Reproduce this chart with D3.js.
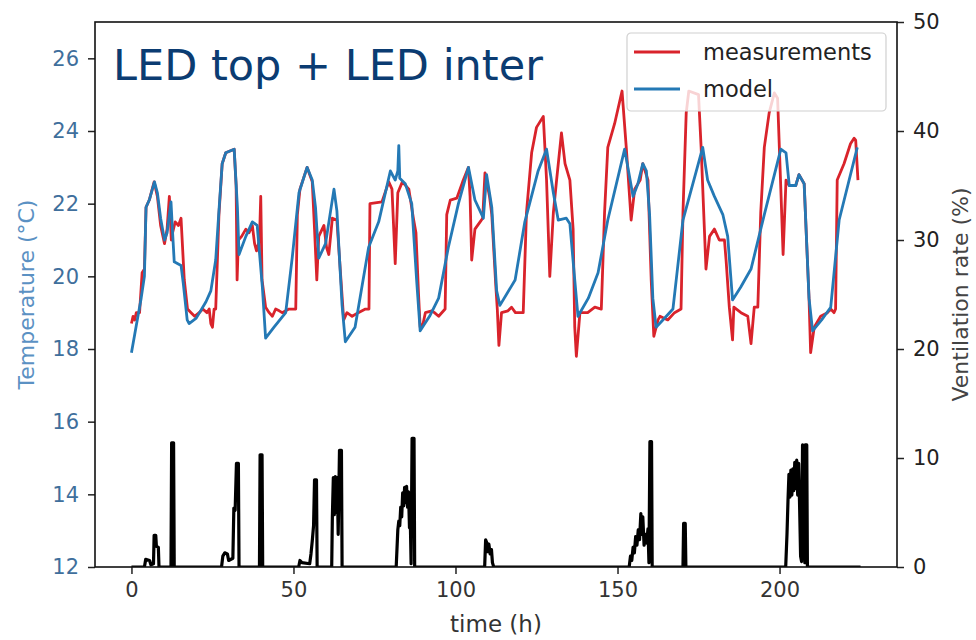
<!DOCTYPE html>
<html>
<head>
<meta charset="utf-8">
<script src="https://cdn.jsdelivr.net/npm/d3@7"></script>
<style>
  body { margin: 0; background: #fff; }
  svg { display: block; font-family: "DejaVu Sans", sans-serif; }
</style>
</head>
<body>
<svg id="chart" width="976" height="640"></svg>
<script>
// values: [time (h), value]
const measured = [
  [0,18.7],[0.5,18.9],[1,18.8],[1.5,19.0],[2.5,19.0],[3.3,20.1],[4,20.2],[4.5,21.9],[5.5,22.1],[7,22.6],
  [8,22.2],[9,21.4],[10.2,20.9],[11,21.3],[11.7,22.2],[12.3,21.0],[12.7,21.2],[13.5,21.5],[14.5,21.4],[15.3,21.6],
  [16.3,19.9],[17.3,19.1],[18.4,19.0],[19.5,18.9],[20.9,19.0],[22,19.1],[23.3,19.0],[24,19.1],[24.5,18.7],[25,18.6],
  [25.5,19.1],[26,19.1],[27,21.7],[28,23.1],[29.1,23.4],[31.7,23.5],[32.3,22.5],[32.6,19.9],[33,21.0],[34,21.1],
  [35.3,21.3],[36.3,21.2],[37.3,21.4],[38,20.9],[38.6,20.7],[39.5,21.0],[39.9,22.2],[40.3,19.9],[41.4,19.15],[42.5,19.0],
  [43.5,18.9],[44.5,19.1],[45.6,19.05],[46.5,19.0],[48.6,19.1],[50.7,19.1],[51.2,21.7],[52,22.4],[54.2,23.0],[55.8,22.6],
  [56.5,21.3],[57.2,19.9],[57.8,21.1],[59.4,21.4],[60.2,20.8],[60.9,20.6],[62,21.6],[63.4,21.55],[64.5,20.1],[65.5,18.8],
  [66.5,19.0],[68.1,18.9],[70,19.0],[72.2,19.1],[73.3,19.1],[73.6,22.0],[77.3,22.05],[79.4,22.6],[80.4,22.4],[81.4,20.35],
  [82.2,22.3],[83.6,22.6],[85.6,22.4],[87,21.6],[87.8,21.2],[88.6,19.5],[89.1,18.6],[90,18.7],[90.7,19.0],[92.7,19.05],
  [93.5,19.0],[94.8,18.9],[96.8,19.1],[97.3,21.7],[98.4,22.1],[100.4,22.15],[102.2,22.6],[104,23.0],[104.5,22.2],[105,20.45],
  [106,21.3],[107.6,21.5],[108.4,21.6],[109.1,22.85],[110.5,22.2],[111.2,21.7],[112.4,19.8],[112.9,19.1],[113.4,18.1],[114.2,19.0],
  [116.2,19.05],[117.3,19.15],[118.5,19.0],[120.9,19.0],[121.9,21.75],[123.5,23.4],[125,24.1],[127.1,24.4],[128.1,22.65],[129.1,20.0],
  [130.2,21.75],[131.2,22.65],[132.7,23.95],[133.8,23.1],[135.3,22.65],[136.3,21.3],[136.8,18.6],[137.3,17.8],[138.4,19.0],[140.8,19.0],
  [143,19.15],[145,19.1],[146,21.75],[147,23.55],[149.1,24.2],[151.4,25.1],[152.7,23.55],[154.2,21.55],[155.3,22.4],[157,22.65],
  [157.8,23.1],[159.4,22.65],[160.4,19.9],[161.2,18.35],[162.5,18.8],[163.1,18.9],[165.5,18.8],[167.6,19.0],[169.6,19.1],[170.2,21.75],
  [171.2,24.5],[172,25.1],[175,25.0],[175.8,23.55],[177.3,20.2],[178.4,21.1],[179.9,21.3],[181.4,21.0],[183,21.0],[183.5,20.45],
  [184.5,19.15],[185.5,18.25],[185.9,19.15],[188.1,19.0],[190.2,18.9],[191.2,18.15],[192.2,19.15],[193.3,19.15],[194.2,21.75],[195.3,23.55],
  [196.8,24.5],[198.4,25.05],[199.4,24.9],[200.4,22.4],[201.1,20.6],[202,22.65],[203,22.5],[205,22.5],[206,22.8],[207.6,22.55],
  [209.1,19.4],[209.6,17.9],[210.7,18.6],[212.7,18.9],[214.8,19.0],[215.8,19.1],[216.8,19.0],[217.3,19.1],[217.8,22.65],[219.9,23.1],
  [221.9,23.65],[223,23.8],[223.5,23.75],[224.2,22.65]
];

const model = [
  [0,17.9],[1,18.4],[2,18.9],[3,19.4],[4,20.0],[4.5,21.9],[5.5,22.1],[7.1,22.6],[8,22.3],[9,21.6],
  [10.2,21.0],[11,21.2],[12.2,22.05],[12.7,21.2],[13.2,20.4],[15.3,20.3],[16,19.8],[17.2,18.8],[17.8,18.7],[20,18.85],
  [23,19.3],[24.5,19.6],[26,20.45],[27,21.8],[28,23.1],[29.1,23.4],[31.7,23.5],[32.7,21.9],[33.2,20.6],[35.3,21.1],
  [37.3,21.5],[38.8,21.4],[40.4,19.7],[41.4,18.3],[44,18.6],[47.6,19.0],[49.6,20.5],[51.7,22.3],[54.2,23.0],[55.8,22.65],
  [56.8,21.9],[57.8,20.5],[59.9,20.9],[62.5,22.4],[63.4,21.8],[65,19.2],[66,18.2],[69,18.6],[73.2,20.8],[76.3,21.5],
  [79.9,22.9],[81.4,22.65],[82.2,22.9],[82.5,23.6],[82.8,22.7],[84.5,22.55],[86.5,22.0],[88,19.9],[89.1,18.5],[92,18.9],
  [94.8,19.4],[97.8,20.8],[100.9,22.0],[104,23.0],[106,22.1],[108.6,21.6],[109.6,22.8],[111.2,21.9],[112.7,19.6],[113.7,19.2],
  [118.4,19.9],[121.4,21.5],[125.5,22.9],[128.1,23.5],[130.2,22.3],[131.7,21.55],[134.2,21.6],[135.3,21.45],[136.8,19.9],[137.8,18.9],
  [141,19.4],[144,20.1],[147,21.55],[152.2,23.5],[154.8,22.2],[156.3,22.55],[157.8,23.1],[158.9,22.9],[159.9,21.7],[160.9,19.4],
  [161.9,18.6],[164,18.8],[167.1,19.1],[170.2,21.55],[176.3,23.55],[177.8,22.65],[179.9,22.2],[182.5,21.7],[184,21.1],[185.5,19.35],
  [188,19.7],[191.2,20.2],[195.3,21.7],[200.4,23.5],[202,23.4],[203,22.5],[205,22.5],[206,22.8],[207.6,22.55],[209.1,19.4],
  [210.2,18.5],[213,18.8],[215.8,19.15],[218.4,21.55],[224,23.55]
];

const ventilation = [
  [0,0],[4,0],[4.4,0.7],[5.6,0.6],[6,0.2],[6.8,0.3],[7,2.9],[7.5,2.9],[7.7,1.9],[8.3,1.8],[8.5,0],
  [12.2,0],[12.4,11.4],[13.0,11.4],[13.2,0],
  [27.8,0],[28.2,1.0],[28.8,1.3],[29.6,1.2],[30,0.6],[31.3,0.8],[31.6,5.4],[32,5.2],[32.4,9.5],[33.0,9.5],[33.2,0],
  [39.5,0],[39.7,10.3],[40.3,10.3],[40.5,0],
  [51.6,0],[52,0.6],[52.6,0.4],[55,0.3],[55.4,1.2],[55.8,2.4],[56.2,3.8],[56.5,8.0],[57.1,8.0],[57.3,0],
  [61.8,0],[62,4.6],[62.3,8.2],[62.6,4.8],[62.9,8.3],[63.2,5.0],[63.5,8.2],[63.8,3.0],[64.2,10.7],[64.8,10.7],[65.0,0],
  [81.7,0],[82.2,3.4],[82.5,4.2],[82.8,3.8],[83.1,5.5],[83.4,4.6],[83.7,6.8],[84,5.6],[84.3,7.3],[84.6,5.9],
  [84.9,7.4],[85.2,5.5],[85.5,6.9],[85.8,3.6],[86.1,3.5],[86.3,0.3],[86.6,11.8],[87.2,11.8],[87.4,0],
  [109,0],[109.3,2.5],[109.7,2.2],[110,1.4],[110.3,2.1],[110.7,1.2],[111.1,1.6],[111.4,0.4],[111.8,0],
  [153.6,0],[154,1.0],[154.4,0.6],[154.8,1.8],[155.2,1.3],[155.6,2.8],[156,2.0],[156.4,3.4],[156.8,2.5],[157.2,4.9],
  [157.5,3.0],[157.8,4.6],[158.2,2.0],[158.6,3.0],[159,2.2],[159.4,3.5],[159.7,0.4],[160.0,11.5],[160.5,11.5],[160.7,0],
  [170.2,0],[170.4,4.0],[170.9,4.0],[171.1,0],
  [201.9,0],[202.3,3.0],[202.6,6.0],[202.9,8.5],[203.2,6.4],[203.5,8.9],[203.8,6.6],[204.1,9.0],[204.4,7.0],[204.7,9.6],
  [205,7.2],[205.3,9.8],[205.6,6.6],[205.9,9.5],[206.2,5.5],[206.5,1.0],[206.8,0.5],[207.1,11.2],[207.6,10.8],[207.8,0.4],
  [207.9,11.2],[208.4,11.2],[208.6,0],
  [225,0]
];

const xTicks = [0, 50, 100, 150, 200];
const tempTicks = [12, 14, 16, 18, 20, 22, 24, 26];
const ventTicks = [0, 10, 20, 30, 40, 50];
const seriesNames = ["measurements", "model"];
const titleText = "LED top + LED inter";

const colors = { measured: "#d9232b", model: "#2479b5", vent: "#000" };

const svg = d3.select("#chart");
const margin = { top: 22, right: 79, bottom: 73, left: 95 };
const width = 976, height = 640;

// scales (matplotlib style 5% margin on x)
const x = d3.scaleLinear().domain([-11.25, 236.25]).range([margin.left, width - margin.right]);
const yTemp = d3.scaleLinear().domain([12, 27]).range([height - margin.bottom, margin.top]);
const yVent = d3.scaleLinear().domain([0, 50]).range([height - margin.bottom, margin.top]);

svg.append("defs").append("clipPath").attr("id", "plot-clip")
  .append("rect")
  .attr("x", margin.left).attr("y", margin.top)
  .attr("width", width - margin.left - margin.right)
  .attr("height", height - margin.top - margin.bottom);

const plot = svg.append("g").attr("clip-path", "url(#plot-clip)");

const tempLine = d3.line().x(d => x(d[0])).y(d => yTemp(d[1]));
const ventLine = d3.line().x(d => x(d[0])).y(d => yVent(d[1]));

plot.append("path").datum(measured)
  .attr("fill", "none").attr("stroke", colors.measured)
  .attr("stroke-width", 2.8).attr("stroke-linejoin", "round")
  .attr("d", tempLine);

plot.append("path").datum(model)
  .attr("fill", "none").attr("stroke", colors.model)
  .attr("stroke-width", 2.8).attr("stroke-linejoin", "round")
  .attr("d", tempLine);

plot.append("path").datum(ventilation)
  .attr("fill", "none").attr("stroke", colors.vent)
  .attr("stroke-width", 3.2).attr("stroke-linejoin", "round")
  .attr("d", ventLine);

// axes
const xAxis = svg.append("g")
  .attr("transform", `translate(0,${height - margin.bottom})`)
  .call(d3.axisBottom(x).tickValues(xTicks).tickSize(7).tickPadding(8).tickSizeOuter(0));

const leftAxis = svg.append("g")
  .attr("transform", `translate(${margin.left},0)`)
  .call(d3.axisLeft(yTemp).tickValues(tempTicks).tickSize(7).tickPadding(9).tickSizeOuter(0));

const rightAxis = svg.append("g")
  .attr("transform", `translate(${width - margin.right},0)`)
  .call(d3.axisRight(yVent).tickValues(ventTicks).tickSize(7).tickPadding(9).tickSizeOuter(0));

[xAxis, leftAxis, rightAxis].forEach(a => {
  a.select(".domain").remove();
  a.selectAll(".tick line").attr("stroke", "#222").attr("stroke-width", 1.5);
  a.selectAll(".tick text").attr("font-size", 21).attr("font-family", "DejaVu Sans, sans-serif");
});
xAxis.selectAll(".tick text").attr("fill", "#333");
leftAxis.selectAll(".tick text").attr("fill", "#3f6f9c");
rightAxis.selectAll(".tick text").attr("fill", "#222");

// frame
svg.append("rect")
  .attr("x", margin.left).attr("y", margin.top)
  .attr("width", width - margin.left - margin.right)
  .attr("height", height - margin.top - margin.bottom)
  .attr("fill", "none").attr("stroke", "#111").attr("stroke-width", 1.6);

// axis labels
svg.append("text")
  .attr("x", (margin.left + width - margin.right) / 2).attr("y", 632)
  .attr("text-anchor", "middle").attr("font-size", 23).attr("fill", "#333")
  .text("time (h)");

svg.append("text")
  .attr("transform", `translate(34,${(margin.top + height - margin.bottom) / 2}) rotate(-90)`)
  .attr("text-anchor", "middle").attr("font-size", 22).attr("fill", "#5b91c3")
  .text("Temperature (°C)");

svg.append("text")
  .attr("transform", `translate(968,${(margin.top + height - margin.bottom) / 2}) rotate(-90)`)
  .attr("text-anchor", "middle").attr("font-size", 22).attr("fill", "#444")
  .text("Ventilation rate (%)");

// title inside the plot
svg.append("text")
  .attr("x", 113).attr("y", 80)
  .attr("font-size", 43).attr("fill", "#0b3c72")
  .text(titleText);

// legend
const legend = svg.append("g").attr("transform", "translate(627,33)");
legend.append("rect")
  .attr("width", 259).attr("height", 78).attr("rx", 4)
  .attr("fill", "#fff").attr("fill-opacity", 0.8)
  .attr("stroke", "#d0d0d0").attr("stroke-width", 1.2);

const legendColors = [colors.measured, colors.model];
seriesNames.forEach((name, i) => {
  const row = legend.append("g").attr("transform", `translate(0,${19 + i * 37})`);
  row.append("line")
    .attr("x1", 7).attr("x2", 53).attr("y1", 0).attr("y2", 0)
    .attr("stroke", legendColors[i]).attr("stroke-width", 2.8);
  row.append("text")
    .attr("x", 76).attr("y", 8)
    .attr("font-size", 22.5).attr("fill", "#222")
    .text(name);
});
</script>
</body>
</html>
